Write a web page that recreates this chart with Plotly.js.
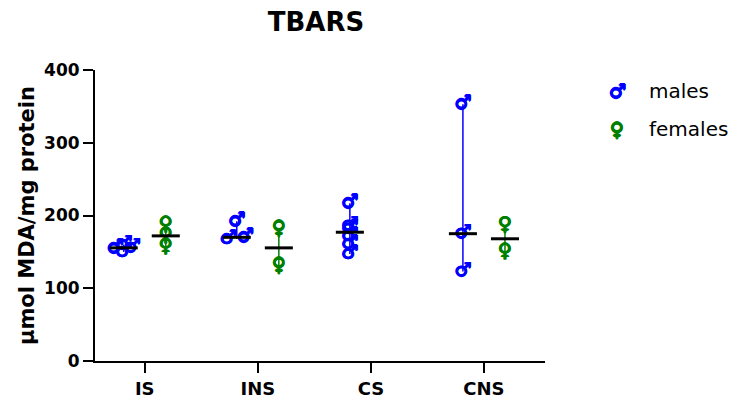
<!DOCTYPE html>
<html>
<head>
<meta charset="utf-8">
<script src="https://cdn.plot.ly/plotly-3.0.1.min.js"></script>
<style>
  html, body { margin: 0; padding: 0; background: #fff; }
  #chart { width: 734px; height: 399px; }
</style>
</head>
<body>
<div id="chart"></div>
<script>
// TBARS per group, males and females
const categories = ['IS', 'INS', 'CS', 'CNS'];
const malesValues = [
  [150, 155, 156, 160],
  [168, 170, 192],
  [147, 161, 172, 182, 186, 217],
  [123, 175, 353]
];
const femalesValues = [
  [157, 172, 187],
  [130, 181],
  [],
  [150, 186]
];
const yTicks = [0, 100, 200, 300, 400];

const FONT = 'DejaVu Sans, Verdana, sans-serif';
const GLYPH_FONT = 'DejaVu Sans, sans-serif';

const series = [
  { name: 'males', glyph: '\u2642', color: '#0000FF', values: malesValues, side: -0.186 },
  { name: 'females', glyph: '\u2640', color: '#008000', values: femalesValues, side: 0.186 }
];

// thicken the thin sex symbols with a tight halo in their own colour
function halo(c) {
  return ['0.7px 0 0 ', '-0.7px 0 0 ', '0 0.7px 0 ', '0 -0.7px 0 '].map(s => s + c).join(', ');
}

function median(arr) {
  const s = arr.slice().sort((a, b) => a - b);
  const n = s.length;
  return n % 2 ? s[(n - 1) / 2] : (s[n / 2 - 1] + s[n / 2]) / 2;
}

// spread near-identical values sideways so glyphs don't sit on top of each other
function spread(vals, center) {
  const s = vals.slice().sort((a, b) => a - b);
  const xs = [];
  let i = 0;
  while (i < s.length) {
    let j = i;
    while (j + 1 < s.length && s[j + 1] - s[j] < 3) j++;
    const n = j - i + 1;
    for (let k = 0; k < n; k++) xs.push(center + (k - (n - 1) / 2) * 0.15);
    i = j + 1;
  }
  return { x: xs, y: s };
}

const traces = [];
series.forEach(sr => {
  sr.values.forEach((vals, ci) => {
    if (!vals.length) return;
    const xc = ci + sr.side;
    // min-max range line
    traces.push({
      x: [xc, xc], y: [Math.min(...vals), Math.max(...vals)],
      mode: 'lines', line: { color: sr.color, width: 1.5 },
      showlegend: false, hoverinfo: 'skip'
    });
    // individual animals
    const p = spread(vals, xc);
    traces.push({
      x: p.x, y: p.y, mode: 'text', text: p.y.map(() => sr.glyph),
      textposition: 'middle center',
      textfont: { family: GLYPH_FONT, size: 19, weight: 'bold', color: sr.color, shadow: halo(sr.color) },
      showlegend: false, name: sr.name
    });
    // median bar
    const m = median(vals);
    traces.push({
      x: [xc - 0.124, xc + 0.124], y: [m, m],
      mode: 'lines', line: { color: '#000', width: 3 },
      showlegend: false, hoverinfo: 'skip'
    });
  });
});

// legend built from glyph + label annotations
const legendAnn = [];
series.forEach((sr, i) => {
  const yPix = 91 + i * 38;
  legendAnn.push({
    xref: 'paper', yref: 'paper', x: (617 - 95) / 450, y: (361 - yPix) / 291,
    text: sr.glyph, showarrow: false, xanchor: 'center', yanchor: 'middle',
    font: { family: GLYPH_FONT, size: 19, weight: 'bold', color: sr.color, shadow: halo(sr.color) }
  });
  legendAnn.push({
    xref: 'paper', yref: 'paper', x: (647 - 95) / 450, y: (361 - yPix) / 291,
    text: sr.name, showarrow: false, xanchor: 'left', yanchor: 'middle',
    font: { family: FONT, size: 20, color: '#000' }
  });
});

const layout = {
  width: 734, height: 399,
  margin: { l: 95, r: 189, t: 70, b: 38 },
  paper_bgcolor: '#fff', plot_bgcolor: '#fff',
  showlegend: false,
  title: {
    text: '<b>TBARS</b>', x: 316 / 734, xanchor: 'center', y: 1 - 22 / 399, yanchor: 'middle',
    font: { family: FONT, size: 26, color: '#000' }
  },
  xaxis: {
    range: [-0.44, 3.54], tickvals: [0, 1, 2, 3],
    ticktext: categories.map(c => '<b>' + c + '</b>'),
    showgrid: false, zeroline: false, showline: true, linecolor: '#000', linewidth: 2,
    ticks: 'outside', ticklen: 10, tickwidth: 2, tickcolor: '#000',
    tickfont: { family: FONT, size: 18, color: '#000' },
    fixedrange: true
  },
  yaxis: {
    range: [0, 400], tickvals: yTicks, ticktext: yTicks.map(v => '<b>' + v + '</b>'),
    showgrid: false, zeroline: false, showline: true, linecolor: '#000', linewidth: 2,
    ticks: 'outside', ticklen: 10, tickwidth: 2, tickcolor: '#000',
    tickfont: { family: FONT, size: 17, color: '#000' },
    title: {
      text: '<b>\u03bcmol MDA/mg protein</b>', standoff: 4,
      font: { family: FONT, size: 21, color: '#000' }
    },
    fixedrange: true
  },
  annotations: legendAnn
};

Plotly.newPlot('chart', traces, layout, { staticPlot: true, displayModeBar: false });
</script>
</body>
</html>
